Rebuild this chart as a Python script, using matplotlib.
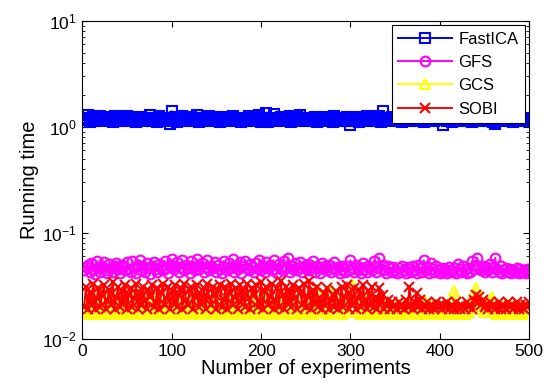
import numpy as np
import matplotlib
matplotlib.use("Agg")
import matplotlib.pyplot as plt

plt.rcParams["font.family"] = ["Liberation Sans", "DejaVu Sans"]
plt.rcParams["mathtext.fontset"] = "custom"
plt.rcParams["mathtext.rm"] = "Liberation Sans"
plt.rcParams["mathtext.it"] = "Liberation Sans"

experiments = np.arange(2, 501, 2)

fastica = [
    1.22, 1.15, 1.30, 1.12, 1.18, 1.24, 1.14, 1.20, 1.16, 1.27, 1.13, 1.19, 1.23, 1.15, 1.17, 1.21, 1.12, 1.25, 1.18, 1.14, 1.22, 1.16, 1.19, 1.13, 1.26,
    1.17, 1.21, 1.14, 1.24, 1.12, 1.19, 1.16, 1.23, 1.15, 1.20, 1.13, 1.18, 1.29, 1.14, 1.22, 1.17, 1.12, 1.25, 1.19, 1.15, 1.21, 1.13, 1.18, 1.05, 1.40,
    1.16, 1.23, 1.12, 1.19, 1.15, 1.26, 1.14, 1.21, 1.17, 1.13, 1.24, 1.18, 1.15, 1.28, 1.12, 1.20, 1.16, 1.22, 1.14, 1.19, 1.25, 1.13, 1.17, 1.21, 1.15,
    1.23, 1.12, 1.18, 1.16, 1.24, 1.14, 1.20, 1.15, 1.27, 1.13, 1.19, 1.22, 1.16, 1.12, 1.21, 1.17, 1.14, 1.25, 1.18, 1.15, 1.20, 1.13, 1.23, 1.30, 1.10,
    1.19, 1.15, 1.36, 1.12, 1.22, 1.17, 1.33, 1.14, 1.20, 1.16, 1.24, 1.13, 1.18, 1.21, 1.15, 1.26, 1.12, 1.19, 1.17, 1.23, 1.14, 1.30, 1.16, 1.20, 1.13,
    1.22, 1.16, 1.18, 1.14, 1.24, 1.12, 1.20, 1.17, 1.15, 1.23, 1.13, 1.19, 1.21, 1.16, 1.12, 1.25, 1.18, 1.14, 1.22, 1.15, 1.19, 1.13, 1.24, 1.17, 1.03,
    1.18, 1.14, 1.23, 1.16, 1.12, 1.21, 1.19, 1.15, 1.25, 1.13, 1.20, 1.17, 1.22, 1.14, 1.18, 1.26, 1.12, 1.40, 1.16, 1.21, 1.15, 1.19, 1.23, 1.13, 1.17,
    1.20, 1.15, 1.24, 1.12, 1.18, 1.22, 1.16, 1.14, 1.21, 1.19, 1.13, 1.25, 1.17, 1.15, 1.23, 1.12, 1.20, 1.16, 1.18, 1.14, 1.22, 1.13, 1.19, 1.24, 1.15,
    1.17, 1.04, 1.21, 1.14, 1.19, 1.23, 1.12, 1.16, 1.20, 1.15, 1.25, 1.13, 1.18, 1.22, 1.14, 1.17, 1.21, 1.12, 1.19, 1.24, 1.15, 1.16, 1.23, 1.13, 1.18,
    1.21, 1.14, 1.17, 1.22, 1.12, 1.06, 1.19, 1.15, 1.24, 1.13, 1.18, 1.20, 1.16, 1.14, 1.22, 1.12, 1.19, 1.17, 1.15, 1.23, 1.13, 1.18, 1.20, 1.16, 1.14,
]

gfs = [
    .044, .047, .050, .043, .052, .045, .041, .054, .046, .043, .049, .053, .044, .042, .051, .046, .043, .048, .052, .045, .042, .050, .047, .044, .053,
    .045, .043, .054, .046, .042, .050, .055, .044, .047, .043, .052, .046, .041, .049, .053, .045, .043, .051, .047, .044, .054, .046, .042, .050, .056,
    .045, .048, .053, .043, .047, .055, .044, .050, .046, .042, .054, .047, .044, .056, .045, .049, .052, .043, .047, .055, .044, .048, .046, .053, .043,
    .050, .045, .042, .054, .047, .044, .052, .046, .056, .043, .049, .045, .053, .042, .048, .054, .046, .044, .051, .047, .043, .052, .045, .055, .044,
    .047, .043, .053, .046, .050, .044, .055, .045, .042, .051, .047, .044, .054, .046, .058, .043, .049, .045, .052, .044, .047, .053, .043, .048, .045,
    .051, .044, .047, .054, .043, .049, .046, .042, .052, .045, .048, .044, .050, .043, .046, .053, .044, .047, .042, .049, .045, .043, .048, .044, .055,
    .046, .043, .050, .044, .047, .042, .052, .045, .043, .049, .046, .044, .054, .043, .047, .058, .045, .050, .044, .042, .048, .046, .043, .047, .044,
    .042, .046, .043, .049, .044, .042, .047, .045, .043, .048, .044, .042, .050, .046, .043, .055, .044, .047, .042, .052, .045, .043, .049, .044, .042,
    .046, .043, .045, .042, .047, .044, .043, .046, .042, .051, .045, .043, .048, .044, .042, .046, .043, .054, .045, .050, .058, .046, .044, .048, .043,
    .047, .044, .051, .043, .046, .058, .045, .043, .048, .042, .044, .046, .043, .045, .042, .044, .043, .046, .042, .045, .043, .044, .042, .045, .043,
]

gcs = [
    .018, .021, .017, .024, .019, .018, .022, .017, .026, .019, .018, .023, .017, .020, .025, .018, .019, .017, .022, .018, .027, .019, .017, .021, .018,
    .020, .017, .024, .018, .019, .022, .017, .018, .026, .019, .017, .021, .018, .023, .017, .019, .025, .018, .020, .017, .022, .018, .019, .024, .017,
    .019, .022, .018, .017, .025, .019, .018, .021, .017, .023, .019, .018, .027, .017, .020, .018, .022, .019, .017, .024, .018, .021, .017, .019, .026,
    .018, .020, .017, .023, .019, .018, .025, .017, .021, .019, .018, .024, .017, .020, .022, .018, .019, .017, .026, .018, .021, .017, .019, .023, .018,
    .017, .022, .019, .018, .025, .017, .020, .018, .023, .019, .017, .021, .018, .026, .019, .017, .022, .018, .020, .017, .024, .019, .018, .021, .017,
    .019, .023, .018, .017, .022, .019, .018, .027, .020, .018, .025, .019, .017, .028, .021, .018, .023, .019, .020, .017, .024, .019, .018, .022, .026,
    .033, .020, .018, .025, .019, .017, .022, .019, .024, .018, .020, .017, .023, .019, .018, .021, .017, .020, .018, .022, .019, .017, .021, .018, .019,
    .021, .018, .017, .020, .019, .018, .022, .017, .019, .021, .018, .017, .020, .019, .018, .023, .017, .019, .018, .021, .017, .020, .018, .019, .017,
    .020, .018, .019, .017, .021, .018, .020, .028, .019, .017, .020, .018, .019, .017, .021, .018, .022, .019, .024, .030, .023, .021, .019, .022, .018,
    .020, .019, .021, .025, .018, .020, .017, .019, .021, .018, .017, .020, .019, .018, .021, .017, .019, .020, .018, .021, .017, .019, .018, .020, .019,
]

sobi = [
    .020, .031, .019, .027, .022, .033, .019, .024, .030, .020, .026, .032, .019, .023, .029, .021, .034, .019, .025, .031, .020, .028, .022, .032, .019,
    .026, .030, .020, .024, .033, .019, .027, .021, .031, .023, .019, .029, .025, .032, .020, .022, .030, .019, .027, .033, .021, .024, .031, .019, .028,
    .022, .032, .020, .026, .030, .019, .033, .023, .021, .029, .031, .019, .025, .032, .020, .027, .022, .030, .019, .033, .024, .021, .031, .026, .019,
    .029, .032, .020, .023, .031, .019, .027, .033, .021, .025, .030, .019, .032, .022, .028, .020, .033, .024, .019, .030, .026, .032, .020, .022, .034,
    .019, .028, .031, .021, .025, .033, .019, .023, .030, .020, .035, .026, .019, .031, .022, .028, .020, .032, .024, .019, .030, .027, .021, .033, .020,
    .025, .035, .019, .029, .022, .031, .020, .024, .019, .027, .021, .030, .019, .023, .026, .020, .028, .019, .022, .031, .020, .025, .032, .019, .027,
    .021, .030, .019, .024, .029, .020, .032, .023, .019, .028, .021, .031, .020, .025, .019, .030, .022, .026, .019, .021, .023, .019, .022, .020, .021,
    .019, .022, .020, .021, .019, .023, .020, .031, .021, .019, .022, .027, .020, .023, .019, .021, .020, .022, .019, .021, .020, .019, .022, .020, .021,
    .019, .021, .020, .022, .019, .020, .021, .019, .022, .020, .019, .021, .020, .019, .022, .020, .021, .019, .023, .026, .022, .025, .021, .023, .020,
    .021, .019, .022, .020, .021, .019, .020, .022, .019, .021, .020, .019, .022, .020, .021, .019, .020, .022, .019, .021, .020, .019, .021, .020, .022,
]

series = [
    ("FastICA", fastica, "#0000ff", "s"),
    ("GFS", gfs, "#ff00ff", "o"),
    ("GCS", gcs, "#ffff00", "^"),
    ("SOBI", sobi, "#ff0000", "x"),
]

fig = plt.figure(figsize=(5.49, 3.84), dpi=100)
ax = fig.add_axes([0.150, 0.118, 0.814, 0.828])

for name, vals, col, mk in series:
    ax.plot(experiments, vals, color=col, marker=mk, markersize=7,
            markerfacecolor="none", markeredgecolor=col, markeredgewidth=1.5,
            linewidth=1.4, label=name)

ax.set_yscale("log")
ax.set_ylim(1e-2, 1e1)
ax.set_xlim(0, 500)
ax.set_xticks([0, 100, 200, 300, 400, 500])
ax.tick_params(which="both", direction="in", top=True, right=True, labelsize=12.5)
ax.tick_params(which="major", length=4, pad=4)
ax.tick_params(which="minor", length=2)
ax.set_xlabel("Number of experiments", fontsize=14.5, labelpad=0)
ax.set_ylabel("Running time", fontsize=14.5, labelpad=2)

leg = ax.legend(loc="upper right", fontsize=12, handlelength=3.2,
                handletextpad=0.4, fancybox=False, framealpha=1,
                edgecolor="black", borderaxespad=0.25, labelspacing=0.5)
leg.get_frame().set_linewidth(0.8)

fig.savefig("out.png", dpi=100)
